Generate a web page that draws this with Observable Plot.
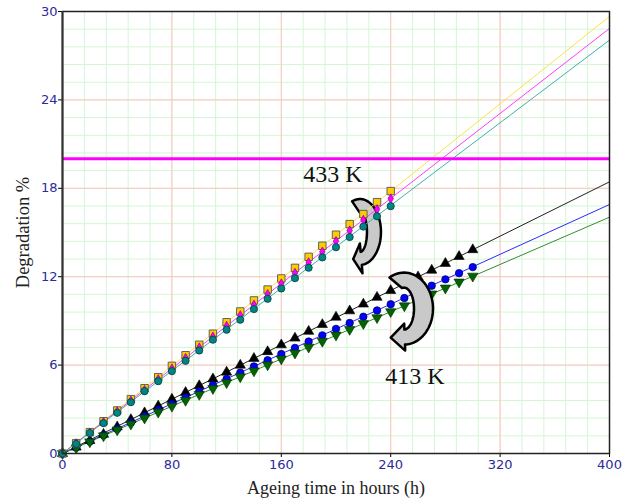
<!DOCTYPE html>
<html><head><meta charset="utf-8">
<script src="https://cdn.jsdelivr.net/npm/d3@7"></script>
<script src="https://cdn.jsdelivr.net/npm/@observablehq/plot@0.6"></script>
<style>
body{margin:0;background:#fff}
#chart svg g[aria-label^="x-axis"] text, #chart svg g[aria-label^="y-axis"] text {fill:#2b2b9c}
</style></head><body><div id="chart"></div>
<script>
// ---- data ----
const xTicks = [0, 80, 160, 240, 320, 400];
const yTicks = [0, 6, 12, 18, 24, 30];
const limitLine = 20;

const hours433 = [0,10,20,30,40,50,60,70,80,90,100,110,120,130,140,150,160,170,180,190,200,210,220,230,240];
const yellow433 = [0,0.70,1.45,2.19,2.92,3.69,4.43,5.18,5.95,6.67,7.38,8.13,8.91,9.64,10.39,11.13,11.88,12.60,13.35,14.10,14.85,15.57,16.25,17.06,17.81];
const magenta433 = [0,0.68,1.40,2.12,2.85,3.58,4.30,5.03,5.76,6.48,7.19,7.92,8.65,9.37,10.09,10.81,11.53,12.25,12.97,13.69,14.41,15.13,15.85,16.57,17.30];
const teal433 = [0,0.66,1.39,2.06,2.76,3.48,4.23,4.91,5.59,6.29,6.99,7.72,8.40,9.08,9.80,10.50,11.20,11.90,12.61,13.31,14.00,14.69,15.40,16.10,16.79];

const hours413 = [0,10,20,30,40,50,60,70,80,90,100,110,120,130,140,150,160,170,180,190,200,210,220,230,240,250,260,270,280,290,300];
const black413 = [0,0.43,0.88,1.30,1.80,2.30,2.76,3.22,3.68,4.14,4.60,5.06,5.52,5.99,6.45,6.91,7.37,7.83,8.29,8.75,9.25,9.68,10.14,10.60,11.06,11.52,11.98,12.44,12.90,13.37,13.83];
const blue413 = [0,0.40,0.82,1.24,1.67,2.10,2.53,2.95,3.37,3.80,4.22,4.64,5.06,5.49,5.91,6.33,6.75,7.17,7.60,8.02,8.46,8.86,9.28,9.71,10.13,10.55,10.97,11.39,11.82,12.24,12.65];
const green413 = [0,0.38,0.79,1.20,1.60,2.00,2.41,2.81,3.21,3.61,4.01,4.41,4.81,5.21,5.61,6.02,6.42,6.82,7.22,7.62,8.04,8.42,8.82,9.22,9.63,10.03,10.43,10.83,11.23,11.64,12.04];

// linear fit lines (value at 0 h and at 400 h)
const fitHours = [0, 400];
const fitYellow = [0, 29.67];
const fitMagenta = [0, 28.85];
const fitTeal = [0, 28.06];
const fitBlack = [0, 18.44];
const fitBlue = [0, 16.90];
const fitGreen = [0, 16.04];

const labels = ["433 K", "413 K"];
const labelPos = [{t: 176, v: 18.4}, {t: 236, v: 4.75}];
const arrowAnchors = [{t: 217.9, v: 15.0}, {t: 250.1, v: 9.8}];

// ---- helpers ----
const triangleDown = {
  draw(context, size) {
    const y = -Math.sqrt(size / (Math.sqrt(3) * 3));
    context.moveTo(0, -y * 2);
    context.lineTo(-Math.sqrt(3) * y, y);
    context.lineTo(Math.sqrt(3) * y, y);
    context.closePath();
  }
};
const rows = (hs, vs) => hs.map((t, i) => ({t, v: vs[i]}));
const fitLine = (vals, stroke) => Plot.line(rows(fitHours, vals), {x: "t", y: "v", stroke, strokeWidth: 1});

// curved arrow annotation (shape in pixels, anchored in data space)
function curvedArrow(anchor, g) {
  return (index, scales) => {
    const cx = scales.x(anchor.t), cy = scales.y(anchor.v);
    const N = 48, pts = [];
    const ell = (rx, ry, th) => [cx + rx * Math.sin(th), cy - ry * Math.cos(th)];
    for (let i = 0; i <= N; i++) pts.push(ell(g.rxo, g.ryo, g.a0 + (g.a1 - g.a0) * i / N));
    const rmx = (g.rxo + g.rxi) / 2, rmy = (g.ryo + g.ryi) / 2;
    const P = ell(rmx, rmy, g.a1);
    const n = [Math.sin(g.a1), -Math.cos(g.a1)];
    const tg = [Math.cos(g.a1), Math.sin(g.a1)];
    pts.push([P[0] + g.hw * n[0], P[1] + g.hw * n[1]]);
    pts.push([P[0] + g.hl * tg[0], P[1] + g.hl * tg[1]]);
    pts.push([P[0] - g.hw * n[0], P[1] - g.hw * n[1]]);
    for (let i = N; i >= 0; i--) pts.push(ell(g.rxi, g.ryi, g.a0i + (g.a1 - g.a0i) * i / N));
    const d = "M" + pts.map(p => p[0].toFixed(2) + "," + p[1].toFixed(2)).join("L") + "Z";
    const path = document.createElementNS("http://www.w3.org/2000/svg", "path");
    path.setAttribute("d", d);
    path.setAttribute("fill", "#c9c9c9");
    path.setAttribute("stroke", "#000");
    path.setAttribute("stroke-width", "2.5");
    path.setAttribute("stroke-linejoin", "round");
    return path;
  };
}
const deg = Math.PI / 180;
const arrow433 = {rxo: 21, ryo: 33, rxi: 7, ryi: 20, a0: -22 * deg, a0i: -5 * deg, a1: 175 * deg, hw: 15, hl: 8};
const arrow413 = {rxo: 29, ryo: 36, rxi: 10, ryi: 21, a0: -30 * deg, a0i: -12 * deg, a1: 178 * deg, hw: 13.5, hl: 14};

const xMinor = d3.range(0, 401, 16);
const yMinor = d3.range(0, 30.01, 1.2).map(v => +v.toFixed(2));

const chart = Plot.plot({
  width: 644, height: 498,
  marginLeft: 62, marginRight: 35, marginTop: 11, marginBottom: 45,
  style: {fontFamily: "DejaVu Sans, sans-serif", fontSize: "13px", background: "#fff"},
  x: {domain: [0, 400], ticks: xTicks, tickSize: 4, tickPadding: 2, label: null},
  y: {domain: [0, 30], ticks: yTicks, tickSize: 4, tickPadding: 1, label: null},
  marks: [
    Plot.ruleX(xMinor, {stroke: "#d4f6d4", strokeWidth: 1}),
    Plot.ruleY(yMinor, {stroke: "#d4f6d4", strokeWidth: 1}),
    Plot.ruleX(xTicks.slice(1, -1), {stroke: "#ffc2c2", strokeWidth: 1}),
    Plot.ruleY(yTicks.slice(1, -1), {stroke: "#ffc2c2", strokeWidth: 1}),
    // 413 K
    fitLine(fitBlack, "#222"),
    fitLine(fitBlue, "#2a2aff"),
    fitLine(fitGreen, "#2f8f2f"),
    Plot.dot(rows(hours413, black413), {x: "t", y: "v", symbol: "triangle", r: 3.8, fill: "#000", stroke: "#000", strokeWidth: 0.6}),
    Plot.dot(rows(hours413, blue413), {x: "t", y: "v", symbol: "circle", r: 3.7, fill: "#0000ff", stroke: "#00006a", strokeWidth: 0.8}),
    Plot.dot(rows(hours413, green413), {x: "t", y: "v", symbol: triangleDown, r: 3.8, fill: "#006400", stroke: "#002800", strokeWidth: 0.6}),
    // arrows
    curvedArrow(arrowAnchors[0], arrow433),
    curvedArrow(arrowAnchors[1], arrow413),
    // 433 K
    fitLine(fitYellow, "#ffe04a"),
    fitLine(fitMagenta, "#ff3cff"),
    fitLine(fitTeal, "#3fb0b0"),
    Plot.dot(rows(hours433, yellow433), {x: "t", y: "v", symbol: "square", r: 4.2, fill: "#ffcc00", stroke: "#555", strokeWidth: 0.9}),
    Plot.dot(rows(hours433, magenta433), {x: "t", y: "v", symbol: "diamond", r: 2.9, fill: "#ff00ff", stroke: "#7a007a", strokeWidth: 0.6}),
    Plot.dot(rows(hours433, teal433), {x: "t", y: "v", symbol: "circle", r: 3.6, fill: "#008585", stroke: "#003c3c", strokeWidth: 0.8}),
    Plot.ruleY([limitLine], {stroke: "#ff00ff", strokeWidth: 3}),
    Plot.frame({stroke: "#222", strokeWidth: 1.5}),
    Plot.ruleX([0], {stroke: "#333", strokeWidth: 2}),
    Plot.text(labels, {x: (d, i) => labelPos[i].t, y: (d, i) => labelPos[i].v, text: d => d, textAnchor: "start", lineAnchor: "bottom", fontFamily: "Liberation Serif, serif", fontSize: 24, fill: "#111"}),
    Plot.text(["Ageing time in hours (h)"], {frameAnchor: "bottom", dy: 40, textAnchor: "middle", text: d => d, fontFamily: "Liberation Serif, serif", fontSize: 18, fill: "#222"}),
    Plot.text(["Degradation %"], {frameAnchor: "left", dx: -39, rotate: -90, textAnchor: "middle", text: d => d, fontFamily: "Liberation Serif, serif", fontSize: 18.5, fill: "#222"})
  ]
});
document.getElementById("chart").appendChild(chart);
</script>
</body></html>
